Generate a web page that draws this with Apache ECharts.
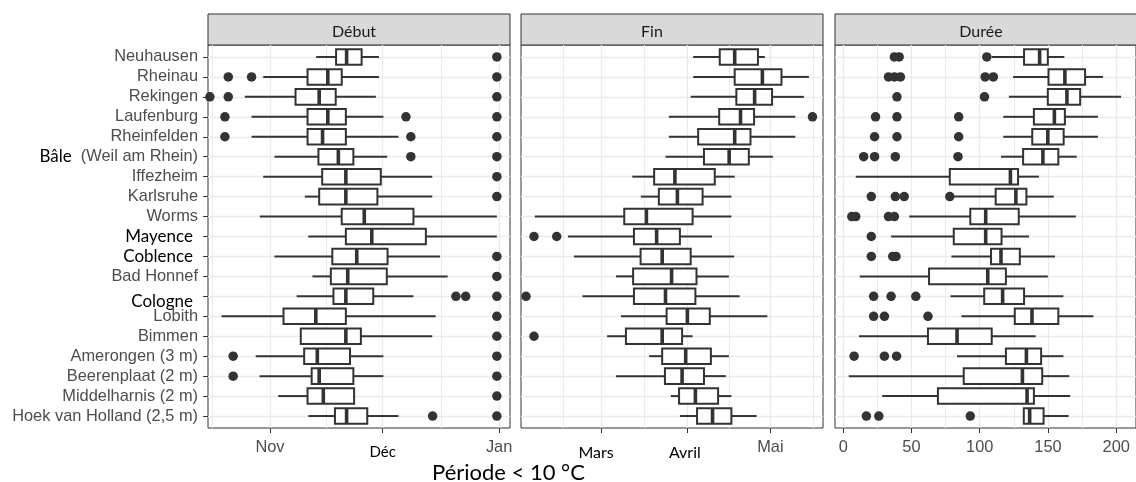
<!DOCTYPE html>
<html>
<head>
<meta charset="utf-8">
<title>Période &lt; 10 °C</title>
<script src="https://cdn.jsdelivr.net/npm/echarts@6/dist/echarts.min.js"></script>
<style>
  html, body { margin: 0; padding: 0; background: #fff; }
  #chart { width: 1136px; height: 482px; }
</style>
</head>
<body>
<div id="chart"></div>
<script>
// ---------------- données ----------------
// stations, du haut vers le bas
const stations = [
  'Neuhausen', 'Rheinau', 'Rekingen', 'Laufenburg', 'Rheinfelden',
  'Bâle (Weil am Rhein)', 'Iffezheim', 'Karlsruhe', 'Worms', 'Mayence',
  'Coblence', 'Bad Honnef', 'Cologne', 'Lobith', 'Bimmen',
  'Amerongen (3 m)', 'Beerenplaat (2 m)', 'Middelharnis (2 m)', 'Hoek van Holland (2,5 m)'
]
const panels = ['Début', 'Fin', 'Durée']

// Début : jours depuis le 1er novembre [moustache basse, Q1, médiane, Q3, moustache haute]
const debutBox = [
  [12.3, 17.6, 20.4, 24.4, 29.0],
  [-1.8, 10.0, 15.4, 19.1, 29.0],
  [-6.7, 6.8, 13.1, 17.5, 28.2],
  [-4.9, 10.0, 15.4, 20.2, 30.2],
  [-4.9, 10.0, 14.0, 20.2, 34.2],
  [1.2, 12.9, 18.2, 22.2, 31.2],
  [-1.8, 13.9, 20.2, 29.5, 43.2],
  [9.3, 13.1, 20.2, 28.6, 43.2],
  [-2.7, 19.1, 25.1, 38.2, 60.4],
  [10.2, 20.2, 27.1, 41.5, 60.4],
  [1.2, 16.6, 23.1, 31.3, 45.3],
  [11.3, 16.2, 20.7, 31.1, 47.3],
  [7.1, 16.9, 20.2, 27.5, 38.2],
  [-12.9, 3.6, 12.2, 20.2, 44.1],
  [8.2, 8.2, 20.2, 24.2, 43.2],
  [-3.8, 9.1, 12.6, 21.3, 30.2],
  [-2.8, 11.1, 13.1, 22.2, 30.2],
  [2.2, 10.0, 14.2, 22.4, 22.4],
  [10.2, 17.3, 20.4, 25.9, 34.2]
]
const debutOut = [
  [60.4], [-11.1, -4.9, 60.4], [-16.0, -11.1, 60.4], [-12.0, 36.2, 60.4], [-12.0, 37.5, 60.4],
  [37.5, 60.4], [60.4], [60.4], [], [],
  [60.4], [60.4], [49.5, 52.1, 60.4], [60.4], [60.4],
  [-9.8, 60.4], [-9.8, 60.4], [60.4], [43.3, 60.4]
]

// Fin : jours depuis le 1er mars
const finBox = [
  [33.1, 42.7, 48.1, 56.5, 59.0],
  [33.1, 48.1, 58.1, 65.0, 74.9],
  [32.2, 48.7, 55.3, 61.6, 73.1],
  [24.3, 42.5, 50.2, 55.1, 70.0],
  [24.3, 34.9, 48.1, 53.8, 70.0],
  [23.1, 37.0, 46.1, 53.2, 61.9],
  [11.1, 19.0, 26.5, 40.9, 48.1],
  [14.2, 20.7, 27.4, 36.5, 46.9],
  [-24.1, 8.2, 16.2, 32.9, 46.9],
  [-12.1, 11.7, 19.9, 28.3, 39.9],
  [-10.0, 14.1, 21.9, 32.2, 47.9],
  [5.2, 11.4, 25.3, 34.3, 46.0],
  [-6.9, 11.7, 23.1, 33.9, 49.9],
  [7.0, 23.5, 31.0, 39.1, 59.9],
  [2.0, 8.8, 21.9, 29.1, 32.9],
  [17.2, 21.9, 30.4, 39.5, 46.0],
  [5.2, 22.9, 29.1, 37.0, 44.9],
  [25.0, 28.0, 33.9, 42.1, 46.9],
  [28.3, 34.5, 40.1, 46.9, 56.0]
]
const finOut = [
  [], [], [], [76.2], [],
  [], [], [], [], [-24.4, -16.2],
  [], [], [-27.3], [], [-24.4],
  [], [], [], []
]

// Durée : jours
const dureeBox = [
  [108.8, 132.5, 143.9, 149.9, 162.0],
  [124.5, 150.4, 162.4, 177.2, 190.3],
  [121.4, 149.9, 163.9, 173.6, 203.6],
  [117.3, 139.7, 154.7, 162.4, 186.6],
  [117.3, 138.5, 149.9, 161.5, 186.6],
  [115.6, 131.8, 146.3, 157.6, 171.1],
  [9.2, 78.1, 122.5, 128.1, 143.4],
  [80.0, 111.7, 126.5, 134.2, 154.3],
  [48.4, 93.1, 104.4, 128.6, 170.4],
  [35.1, 81.0, 104.4, 116.0, 136.1],
  [79.3, 108.3, 115.6, 129.4, 155.2],
  [12.1, 62.9, 105.9, 119.2, 149.9],
  [78.6, 103.3, 116.8, 132.5, 161.3],
  [86.6, 125.7, 138.3, 157.6, 183.3],
  [11.6, 62.1, 83.4, 108.8, 141.0],
  [83.4, 119.2, 134.2, 145.0, 161.3],
  [4.1, 88.3, 131.3, 145.8, 165.6],
  [28.6, 69.4, 134.7, 139.7, 166.3],
  [132.3, 132.3, 136.6, 146.8, 165.1]
]
const dureeOut = [
  [37.5, 41.0, 105.2], [33.2, 37.5, 41.9, 104.0, 110.0], [39.4, 103.5], [23.7, 39.4, 84.6], [23.0, 39.4, 84.6],
  [15.0, 23.0, 38.2, 84.1], [], [20.6, 38.2, 44.7, 78.1], [6.3, 9.2, 33.2, 37.5], [20.6],
  [20.6, 36.3, 38.7], [], [22.3, 35.1, 53.2], [22.3, 30.2, 62.1], [],
  [8.0, 30.2, 39.1], [], [], [17.0, 26.1, 93.1]
]

// graduations x (valeur -> texte)
const debutTicks = { 0: 'Nov', 30: '{kd|Déc}', 61: 'Jan' }
const finTicks = { 0: '{km|Mars}', 31: '{ka|Avril}', 61: 'Mai' }
const dureeTicks = { 0: '0', 50: '50', 100: '100', 150: '150', 200: '200' }

const boxes = [debutBox, finBox, dureeBox]
const outs = [debutOut, finOut, dureeOut]

// ---------------- mise en page ----------------
const grey = '#4d4d4d'
const dark = '#333333'
const gridLine = '#ebebeb'
const rows = stations.map((s, i) => i)

const panelLayout = [
  { left: 208, width: 302, min: -16.5, max: 63.9, major: [0, 30, 61], minor: [-15.5, 15, 45.5], ticks: debutTicks, stripX: 354 },
  { left: 521, width: 302, min: -29.1, max: 80, major: [0, 31, 61], minor: [-14, 15.5, 46, 76.5], ticks: finTicks, stripX: 652 },
  { left: 835, width: 304, min: -6, max: 214.5, major: [0, 50, 100, 150, 200], minor: [25, 75, 125, 175], ticks: dureeTicks, stripX: 981 }
]
const panelTop = 45
const panelHeight = 383

const richLabels = {
  g: { color: grey, fontSize: 16.4, fontFamily: 'Liberation Sans' },
  km: { color: '#000', fontSize: 16, fontFamily: 'Lato', padding: [6, 11, 0, 0] },
  ka: { color: '#000', fontSize: 16, fontFamily: 'Lato', padding: [6, 5, 0, 0] },
  kd: { color: '#000', fontSize: 15, fontFamily: 'Lato', padding: [6, 0, 0, 0] },
  ky: { color: '#000', fontSize: 17, fontFamily: 'Lato', padding: [0, 5, 0, 0] },
  kb: { color: '#000', fontSize: 17, fontFamily: 'Lato' },
  kc: { color: '#000', fontSize: 17, fontFamily: 'Lato', padding: [10, 5, 0, 0] }
}

function stationLabel (v) {
  const name = stations[Math.round(v)]
  if (name === 'Bâle (Weil am Rhein)') return '{kb|Bâle}  {g|(Weil am Rhein)}'
  if (name === 'Cologne') return '{kc|Cologne}'
  if (name === 'Mayence' || name === 'Coblence') return '{ky|' + name + '}'
  return name
}

// boîte à moustaches horizontale
function renderBox (params, api) {
  const idx = api.value(0)
  const pWl = api.coord([api.value(1), idx])
  const pQ1 = api.coord([api.value(2), idx])
  const pMed = api.coord([api.value(3), idx])
  const pQ3 = api.coord([api.value(4), idx])
  const pWr = api.coord([api.value(5), idx])
  const h = api.size([0, 1])[1] * 0.78
  const y = pQ1[1]
  const line = { stroke: dark, lineWidth: 2 }
  return {
    type: 'group',
    children: [
      { type: 'line', shape: { x1: pWl[0], y1: y, x2: pQ1[0], y2: y }, style: line },
      { type: 'line', shape: { x1: pQ3[0], y1: y, x2: pWr[0], y2: y }, style: line },
      {
        type: 'rect',
        shape: { x: pQ1[0], y: y - h / 2, width: pQ3[0] - pQ1[0], height: h },
        style: { fill: '#fff', stroke: dark, lineWidth: 2 }
      },
      { type: 'line', shape: { x1: pMed[0], y1: y - h / 2, x2: pMed[0], y2: y + h / 2 }, style: { stroke: dark, lineWidth: 3.6 } }
    ]
  }
}

const grid = []
const xAxis = []
const yAxis = []
const series = []
const graphic = []

panelLayout.forEach((p, gi) => {
  grid.push({
    left: p.left,
    top: panelTop,
    width: p.width,
    height: panelHeight,
    show: true,
    backgroundColor: '#fff',
    borderColor: dark,
    borderWidth: 1
  })

  // ---x principal : graduations + étiquettes
  xAxis.push({
    type: 'value',
    gridIndex: gi,
    min: p.min,
    max: p.max,
    axisLine: { show: false, onZero: false },
    axisTick: { show: true, length: 5, lineStyle: { color: dark }, customValues: p.major },
    axisLabel: {
      customValues: p.major,
      margin: 11,
      fontSize: 16.4,
      color: grey,
      fontFamily: 'Liberation Sans',
      formatter: v => p.ticks[v] || '',
      rich: richLabels
    },
    splitLine: { show: true, lineStyle: { color: gridLine, width: 1.3 } }
  })
  // ---x secondaire : lignes mineures
  xAxis.push({
    type: 'value',
    gridIndex: gi,
    min: p.min,
    max: p.max,
    axisLine: { show: false, onZero: false },
    axisTick: { show: false, customValues: p.minor },
    axisLabel: { show: false, customValues: p.minor },
    splitLine: { show: true, lineStyle: { color: gridLine, width: 1 } }
  })

  yAxis.push({
    type: 'value',
    gridIndex: gi,
    inverse: true,
    min: -0.6,
    max: stations.length - 0.4,
    axisLine: { show: false, onZero: false },
    axisTick: { show: gi === 0, length: 5, lineStyle: { color: dark }, customValues: rows },
    axisLabel: {
      show: gi === 0,
      customValues: rows,
      margin: 10,
      fontSize: 16.4,
      color: grey,
      fontFamily: 'Liberation Sans',
      formatter: stationLabel,
      rich: richLabels
    },
    splitLine: { show: true, lineStyle: { color: gridLine, width: 1.3 } }
  })

  series.push({
    type: 'custom',
    name: panels[gi],
    xAxisIndex: gi * 2,
    yAxisIndex: gi,
    renderItem: renderBox,
    encode: { x: [1, 2, 3, 4, 5], y: 0 },
    data: boxes[gi].map((b, i) => [i].concat(b)),
    z: 3
  })
  series.push({
    type: 'scatter',
    name: panels[gi] + ' (valeurs extrêmes)',
    xAxisIndex: gi * 2,
    yAxisIndex: gi,
    symbolSize: 9.5,
    clip: true,
    itemStyle: { color: dark, opacity: 1 },
    data: outs[gi].flatMap((list, i) => list.map(v => [v, i])),
    z: 4
  })

  // ---bandeau du panneau
  graphic.push({
    type: 'rect',
    shape: { x: p.left, y: 14, width: p.width, height: 31 },
    style: { fill: '#d9d9d9', stroke: dark, lineWidth: 1 }
  })
  graphic.push({
    type: 'text',
    style: {
      text: panels[gi],
      x: p.stripX,
      y: 32,
      align: 'center',
      verticalAlign: 'middle',
      font: '16px Lato',
      fill: '#1a1a1a'
    }
  })
})

// ---titre de l'axe x
graphic.push({
  type: 'text',
  style: {
    text: 'Période < 10 °C',
    x: 432,
    y: 473,
    verticalAlign: 'middle',
    font: '22px Lato',
    fill: '#000'
  }
})

const chart = echarts.init(document.getElementById('chart'), null, { renderer: 'canvas' })
chart.setOption({
  animation: false,
  backgroundColor: '#fff',
  textStyle: { fontFamily: 'Liberation Sans' },
  grid: grid,
  xAxis: xAxis,
  yAxis: yAxis,
  series: series,
  graphic: graphic
})
</script>
</body>
</html>
